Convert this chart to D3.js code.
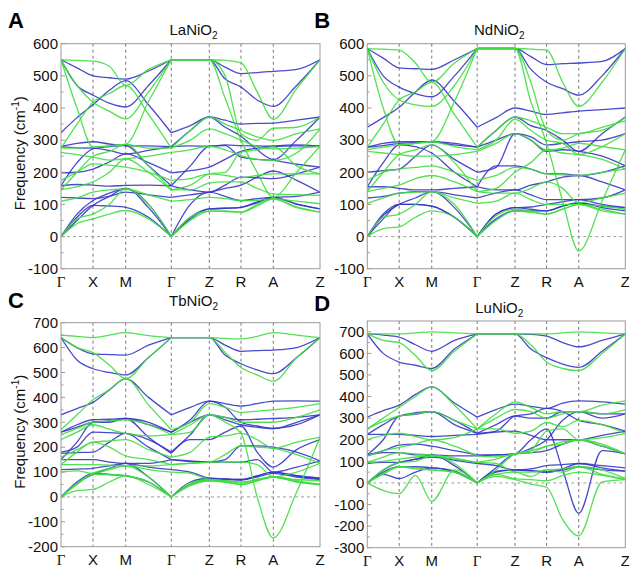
<!DOCTYPE html>
<html>
<head>
<meta charset="utf-8">
<script src="https://cdn.jsdelivr.net/npm/d3@7"></script>
<style>
  body { margin: 0; background: #fff; }
  text { font-family: "Liberation Sans", Arial, sans-serif; fill: #111; }
</style>
</head>
<body>
<script>
// high symmetry path, distances
const kLabels = ["Γ", "X", "M", "Γ", "Z", "R", "A", "Z"];
const kNodes = [0, 32, 64.7, 110.3, 148.3, 180, 212.3, 259];

// each band: values at Γ, ½, X, ½, M, ½, Γ, ½, Z, ½, R, ½, A, ½, Z  (cm-1)
const blueA = [
  [550,525,500,494,490,515,550, 550,550,527,507,510,514,520,550],
  [550,470,440,415,403,470,550, 550,550,490,465,425,405,470,550],
  [323,370,410,455,485,410,323, 345,372,362,350,352,353,362,372],
  [280,290,295,288,283,282,280, 330,372,340,312,270,240,300,372],
  [280,276,275,268,257,268,280, 282,281,285,283,282,281,282,281],
  [198,200,210,232,257,230,198, 205,216,240,265,275,281,285,281],
  [158,230,273,280,283,220,158, 220,281,283,247,240,237,225,216],
  [158,162,160,157,159,160,158, 145,138,160,185,183,180,195,216],
  [122,120,118,125,138,130,122, 130,138,150,160,185,204,175,138],
  [0,70,112,135,150,100,0, 100,138,125,112,118,122,125,138],
  [0,60,97,95,91,60,0, 60,86,88,91,105,122,100,86],
  [0,50,97,125,150,90,0, 55,86,88,91,108,122,102,86]
];
const greenA = [
  [550,548,546,530,470,520,550, 550,550,548,540,450,365,460,550],
  [550,470,418,390,366,450,550, 550,550,430,300,200,122,200,281],
  [550,400,278,282,287,420,550, 550,550,500,320,300,337,340,372],
  [275,350,418,445,470,380,275, 330,372,350,330,310,299,320,335],
  [275,276,278,282,287,275,275, 300,335,320,300,280,273,275,281],
  [262,255,247,238,242,250,262, 270,281,270,252,240,237,260,335],
  [175,200,226,222,216,200,175, 180,195,190,183,190,195,195,195],
  [145,200,250,265,287,220,145, 160,195,200,263,270,280,220,195],
  [145,155,170,200,242,200,145, 145,166,170,170,150,133,130,128],
  [110,120,138,145,148,130,110, 115,122,118,112,113,117,110,102],
  [0,55,70,100,148,100,0, 60,79,78,76,95,117,90,76],
  [0,40,55,70,81,55,0, 50,79,80,76,100,117,92,76]
];

const blueB = [
  [585,555,525,522,520,550,585, 585,585,560,535,538,540,545,585],
  [585,500,465,445,435,500,585, 585,585,520,480,460,440,500,585],
  [340,370,402,450,487,420,340, 370,400,390,380,385,390,395,400],
  [278,290,295,295,295,290,278, 330,372,345,330,300,265,320,372],
  [278,283,290,292,295,285,278, 300,320,310,285,290,295,300,320],
  [200,205,210,250,285,240,200, 215,320,300,265,270,265,250,220],
  [155,230,285,280,260,200,155, 220,220,210,195,195,190,200,220],
  [155,155,150,145,145,150,155, 145,145,160,170,185,190,170,145],
  [120,125,135,140,140,130,120, 135,145,130,115,115,115,120,145],
  [0,70,100,100,95,60,0, 70,90,92,100,108,115,100,90],
  [0,65,100,120,140,90,0, 70,90,85,80,95,105,95,90],
  [0,55,100,100,95,60,0, 55,80,80,80,95,105,90,80]
];
const greenB = [
  [585,583,580,540,480,540,585, 585,585,583,580,480,405,480,585],
  [585,480,425,410,405,470,585, 585,585,420,290,110,-45,110,270],
  [585,400,285,290,295,420,585, 585,585,480,330,300,320,330,370],
  [278,350,425,450,480,380,278, 330,372,360,340,320,320,340,360],
  [270,278,285,290,295,280,270, 300,365,330,300,290,255,280,320],
  [265,260,255,250,250,255,265, 290,320,300,270,275,290,280,270],
  [175,200,210,215,220,200,175, 190,215,210,195,192,190,200,210],
  [140,200,255,270,285,230,140, 150,200,230,270,260,255,240,210],
  [140,150,160,180,190,170,140, 135,135,150,170,150,105,120,135],
  [103,120,135,138,140,120,103, 110,135,115,100,100,100,95,85],
  [0,60,70,100,140,100,0, 65,85,80,70,85,100,85,70],
  [0,25,30,60,80,60,0, 50,80,75,70,85,100,80,70]
];

const blueC = [
  [640,600,575,572,570,610,640, 640,640,610,585,588,590,600,640],
  [640,550,515,500,490,560,640, 640,640,570,535,510,495,560,640],
  [330,355,380,430,475,400,330, 360,385,375,365,375,385,386,385],
  [260,290,310,312,315,300,260, 300,330,320,310,312,315,320,330],
  [260,280,300,305,315,290,260, 310,385,360,300,285,275,300,330],
  [180,200,260,258,255,230,180, 250,330,310,290,280,275,290,330],
  [150,220,300,300,315,240,175, 230,230,260,285,180,120,190,230],
  [175,178,180,220,255,200,150, 145,140,150,205,205,200,180,145],
  [150,150,150,140,135,135,150, 142,140,140,140,150,100,120,145],
  [110,112,115,125,135,120,110, 100,75,72,70,85,100,85,75],
  [0,60,95,90,85,60,0, 60,75,72,70,85,100,85,75],
  [0,55,90,115,135,80,0, 50,70,70,68,80,95,80,70]
];
const greenC = [
  [650,645,640,650,660,648,640, 640,640,637,635,645,660,650,640],
  [640,600,580,530,475,560,640, 640,640,580,520,490,465,560,640],
  [270,330,390,430,475,370,270, 300,375,360,340,345,350,360,375],
  [250,275,300,305,310,290,250, 290,330,320,300,300,300,320,350],
  [230,260,290,272,255,245,250, 260,330,300,255,0,-165,20,240],
  [160,190,220,225,230,190,160, 180,240,245,255,230,195,220,240],
  [130,180,220,200,165,150,130, 135,140,170,205,200,195,170,135],
  [130,130,130,128,125,125,130, 135,140,140,140,130,80,100,135],
  [100,105,95,110,125,110,100, 95,70,65,60,70,80,70,65],
  [0,55,90,90,85,60,0, 55,70,65,55,70,80,65,50],
  [0,50,95,115,125,80,0, 50,65,60,50,65,80,60,50],
  [0,25,30,60,85,50,0, 45,65,60,50,65,80,60,50]
];

const blueD = [
  [690,685,675,640,610,660,690, 690,690,688,680,650,630,660,690],
  [690,600,560,545,530,620,690, 690,690,620,580,550,535,610,690],
  [305,335,360,410,445,370,305, 340,365,355,345,370,380,375,365],
  [225,270,310,325,330,290,230, 270,310,300,300,330,330,320,320],
  [225,225,225,220,215,220,225, 235,240,220,200,200,200,220,240],
  [130,200,310,318,330,270,230, 240,310,320,345,330,290,270,240],
  [130,150,175,180,170,150,130, 130,135,160,200,290,330,300,320],
  [125,140,140,130,130,125,125, 130,135,200,250,60,-140,150,135],
  [90,95,95,110,120,105,90, 80,60,65,80,85,90,80,70],
  [0,50,75,75,70,55,0, 55,60,58,50,65,90,70,55],
  [0,40,20,50,70,50,0, 50,60,55,50,60,75,60,55],
  [0,60,95,110,130,80,0, 70,135,140,150,180,200,170,135]
];
const greenD = [
  [690,690,690,695,700,695,690, 690,690,690,690,695,700,695,690],
  [690,660,650,590,520,610,690, 690,690,640,560,530,520,600,690],
  [250,300,350,400,445,360,250, 320,375,350,320,330,330,360,380],
  [250,285,310,320,330,290,250, 300,340,330,300,320,330,320,340],
  [200,220,230,215,200,210,250, 250,230,240,280,260,290,270,230],
  [125,150,165,180,200,170,125, 120,135,150,240,250,200,210,230],
  [95,120,140,135,130,115,95, 110,135,140,170,180,200,170,135],
  [95,100,110,120,125,110,95, 90,50,50,60,65,75,60,20],
  [0,45,75,70,60,50,0, 40,20,15,10,35,50,35,15],
  [0,-35,-50,35,-85,60,0, 30,15,-5,-20,-170,-245,5,15],
  [0,60,95,100,125,90,0, 60,135,150,170,190,200,180,135],
  [0,40,75,65,60,50,0, 40,50,30,60,50,75,40,20]
];

const panels = [
  { letter: "A", formula: "LaNiO", left: 61, right: 320, top: 43.7, bottom: 268.7, yDomain: [-100, 600],
    titleY: 35, letterY: 28, yTitle: true, blue: blueA, green: greenA },
  { letter: "B", formula: "NdNiO", left: 367.3, right: 625.3, top: 43.7, bottom: 268.7, yDomain: [-100, 600],
    titleY: 35, letterY: 28, yTitle: false, blue: blueB, green: greenB },
  { letter: "C", formula: "TbNiO", left: 61, right: 320, top: 322.7, bottom: 546.7, yDomain: [-200, 700],
    titleY: 306, letterY: 308, yTitle: true, blue: blueC, green: greenC },
  { letter: "D", formula: "LuNiO", left: 367.3, right: 625.3, top: 321, bottom: 547.7, yDomain: [-300, 750],
    titleY: 313, letterY: 311, yTitle: false, blue: blueD, green: greenD }
];

const blueColor = "#3636c8";
const greenColor = "#3ede3e";

const kSamples = d3.range(15).map(i => i % 2 === 0
  ? kNodes[i / 2]
  : (kNodes[(i - 1) / 2] + kNodes[(i + 1) / 2]) / 2);

const svg = d3.select("body").append("svg")
  .attr("width", 629)
  .attr("height", 568);

function drawPanel(p) {
  const g = svg.append("g");
  const x = d3.scaleLinear().domain([0, kNodes[kNodes.length - 1]]).range([p.left, p.right]);
  const y = d3.scaleLinear().domain(p.yDomain).range([p.bottom, p.top]);

  const clipId = "clip" + p.letter;
  g.append("clipPath").attr("id", clipId)
    .append("rect")
    .attr("x", p.left).attr("y", p.top)
    .attr("width", p.right - p.left).attr("height", p.bottom - p.top);

  // dashed guides
  g.selectAll("line.kline")
    .data(kNodes.slice(1, -1))
    .enter().append("line")
    .attr("class", "kline")
    .attr("x1", d => x(d)).attr("x2", d => x(d))
    .attr("y1", p.top).attr("y2", p.bottom)
    .attr("stroke", "#555")
    .attr("stroke-width", 0.8)
    .attr("stroke-dasharray", "3,3");

  g.append("line")
    .attr("x1", p.left).attr("x2", p.right)
    .attr("y1", y(0)).attr("y2", y(0))
    .attr("stroke", "#888")
    .attr("stroke-width", 0.8)
    .attr("stroke-dasharray", "3,3");

  // bands, split at the two Γ points so the acoustic branches keep their kinks
  const line = d3.line()
    .x(d => x(d[0]))
    .y(d => y(d[1]))
    .curve(d3.curveMonotoneX);

  const pieces = band => [
    band.slice(0, 7).map((v, i) => [kSamples[i], v]),
    band.slice(6).map((v, i) => [kSamples[i + 6], v])
  ];

  const bands = g.append("g").attr("clip-path", `url(#${clipId})`);
  [[p.blue, blueColor], [p.green, greenColor]].forEach(([set, color]) => {
    bands.selectAll(null)
      .data(set.flatMap(pieces))
      .enter().append("path")
      .attr("d", line)
      .attr("fill", "none")
      .attr("stroke", color)
      .attr("stroke-width", 1.3)
      .attr("stroke-opacity", 0.9);
  });

  // frame
  g.append("rect")
    .attr("x", p.left).attr("y", p.top)
    .attr("width", p.right - p.left).attr("height", p.bottom - p.top)
    .attr("fill", "none")
    .attr("stroke", "#9a9a9a")
    .attr("stroke-width", 1);

  // y ticks
  const major = d3.range(p.yDomain[0], p.yDomain[1] + 1, 100);
  const minor = d3.range(p.yDomain[0] + 50, p.yDomain[1], 100);
  g.selectAll("line.maj").data(major).enter().append("line")
    .attr("x1", p.left).attr("x2", p.left + 4)
    .attr("y1", d => y(d)).attr("y2", d => y(d))
    .attr("stroke", "#9a9a9a");
  g.selectAll("line.min").data(minor).enter().append("line")
    .attr("x1", p.left).attr("x2", p.left + 2.5)
    .attr("y1", d => y(d)).attr("y2", d => y(d))
    .attr("stroke", "#9a9a9a");

  g.selectAll("text.ytick").data(major).enter().append("text")
    .attr("x", p.left - 3)
    .attr("y", d => y(d))
    .attr("dy", "0.35em")
    .attr("text-anchor", "end")
    .style("font-size", "15px")
    .text(d => d);

  // k labels
  g.selectAll("text.klabel").data(kNodes).enter().append("text")
    .attr("x", d => x(d))
    .attr("y", p.bottom + 18)
    .attr("text-anchor", "middle")
    .style("font-size", "15px")
    .style("font-family", (d, i) => kLabels[i] === "Γ" ? "'Liberation Serif', serif" : null)
    .text((d, i) => kLabels[i]);

  // title
  const t = g.append("text")
    .attr("x", (p.left + p.right) / 2 + 3)
    .attr("y", p.titleY)
    .attr("text-anchor", "middle")
    .style("font-size", "15px");
  t.append("tspan").text(p.formula);
  t.append("tspan").attr("dy", 4).style("font-size", "10px").text("2");

  g.append("text")
    .attr("x", p.left - 53)
    .attr("y", p.letterY)
    .style("font-size", "22px")
    .style("font-weight", "bold")
    .style("fill", "#000")
    .text(p.letter);

  if (p.yTitle) {
    const cy = (p.top + p.bottom) / 2 - 3;
    const yt = g.append("text")
      .attr("transform", `translate(25,${cy}) rotate(-90)`)
      .attr("text-anchor", "middle")
      .style("font-size", "15px");
    yt.append("tspan").text("Frequency (cm");
    yt.append("tspan").attr("dy", -6).style("font-size", "10px").text("-1");
    yt.append("tspan").attr("dy", 6).text(")");
  }
}

panels.forEach(drawPanel);
</script>
</body>
</html>
